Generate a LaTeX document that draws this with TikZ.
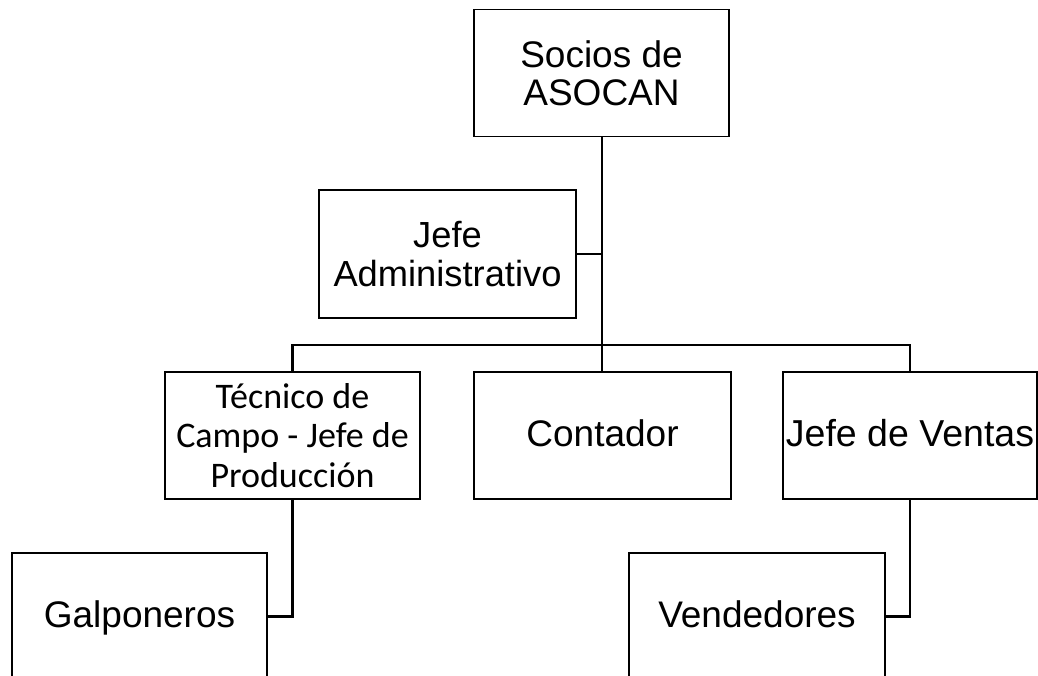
\documentclass[tikz,border=0pt]{standalone}
\usepackage{fontspec}
\setmainfont{Liberation Sans}
\newfontfamily\calfont{Carlito}
\begin{document}
\begin{tikzpicture}[x=1pt,y=-1pt,
  box/.style={draw=black,line width=1.8pt,rectangle,minimum width=256pt,minimum height=127pt,inner sep=0pt,align=center,font=\fontsize{37}{40}\selectfont},
  single/.style={text height=22pt,text depth=0pt},
  conn/.style={draw=black,line width=2.2pt}]
\useasboundingbox (0,0) rectangle (1038,676);
\clip (0,0) rectangle (1038,676);
\node[box,minimum width=255pt,font=\fontsize{37}{38}\selectfont] (soc) at (601.5,73) {Socios de\\ASOCAN};
\node[box,minimum width=257pt,minimum height=128pt,font=\fontsize{36.3}{39}\selectfont] (adm) at (447.5,254) {Jefe\\Administrativo};
\node[box,minimum width=255pt,font=\calfont\fontsize{36}{39.5}\selectfont] (tec) at (292.5,435.5) {Técnico de\\Campo - Jefe de\\Producción};
\node[box,single,minimum width=257pt] (con) at (602.5,435.5) {Contador};
\node[box,single,minimum width=254pt,font=\fontsize{37.5}{40}\selectfont] (ven) at (910,435.5) {Jefe de Ventas};
\node[box,single,minimum width=255pt] (gal) at (139.5,616.5) {Galponeros};
\node[box,single,minimum width=256pt] (vnd) at (757,616.5) {Vendedores};
\coordinate (busy) at (0,345);
\coordinate (trunk) at (602,0);
\draw[conn] (trunk |- soc.south) -- (trunk |- con.north);
\draw[conn] (adm.east) -- (adm.east -| trunk);
\draw[conn] (tec.north) -- (tec.north |- busy) -- (ven.north |- busy) -- (ven.north);
\draw[conn] (tec.south) |- (gal.east);
\draw[conn] (ven.south) |- (vnd.east);
\end{tikzpicture}
\end{document}
